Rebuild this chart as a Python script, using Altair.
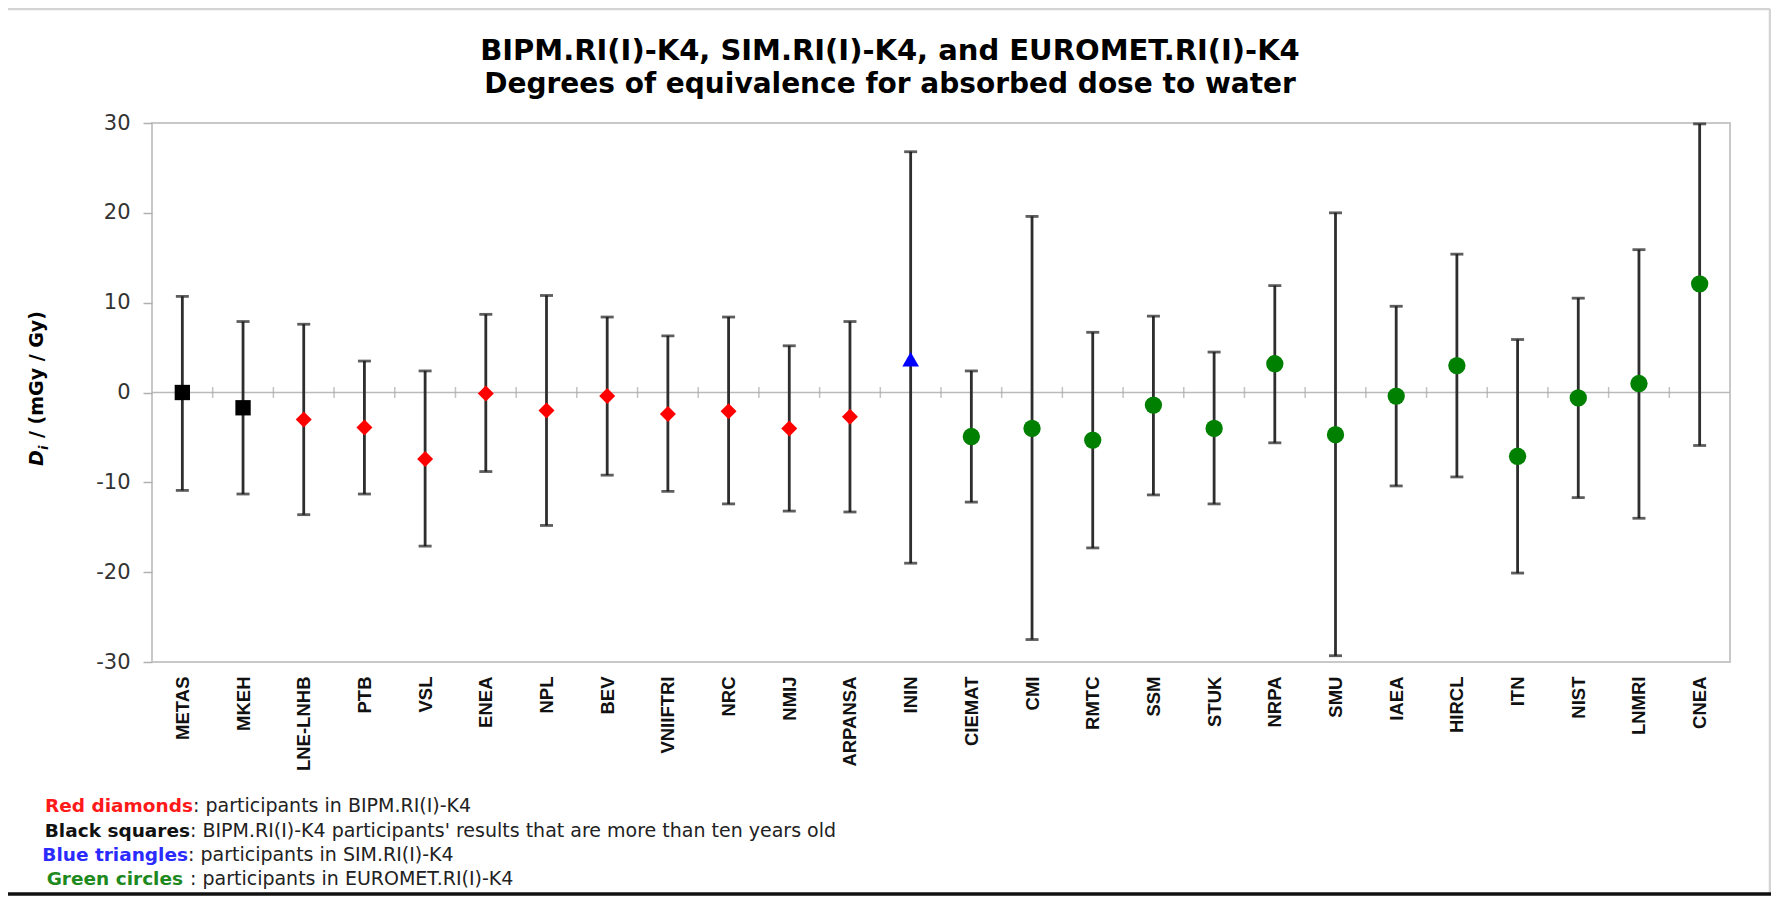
import altair as alt
import pandas as pd

# ---------------- data ----------------
LABS = ["METAS", "MKEH", "LNE-LNHB", "PTB", "VSL", "ENEA", "NPL", "BEV",
        "VNIIFTRI", "NRC", "NMIJ", "ARPANSA", "ININ", "CIEMAT", "CMI", "RMTC",
        "SSM", "STUK", "NRPA", "SMU", "IAEA", "HIRCL", "ITN", "NIST", "LNMRI", "CNEA"]
DI = [0.0, -1.7, -3.0, -3.9, -7.4, -0.1, -2.0, -0.4, -2.4, -2.1, -4.0, -2.7,
      3.7, -4.9, -4.0, -5.3, -1.4, -4.0, 3.2, -4.7, -0.4, 3.0, -7.1, -0.6, 1.0, 12.1]
UPPER = [10.7, 7.9, 7.6, 3.5, 2.4, 8.7, 10.8, 8.4, 6.3, 8.4, 5.2, 7.9,
         26.8, 2.4, 19.6, 6.7, 8.5, 4.5, 11.9, 20.0, 9.6, 15.4, 5.9, 10.5, 15.9, 29.9]
LOWER = [-10.9, -11.3, -13.6, -11.3, -17.1, -8.8, -14.8, -9.2, -11.0, -12.4, -13.2, -13.3,
         -19.0, -12.2, -27.5, -17.3, -11.4, -12.4, -5.6, -29.3, -10.4, -9.4, -20.1, -11.7, -14.0, -5.9]
GROUP = ["old"] * 2 + ["bipm"] * 10 + ["sim"] + ["euromet"] * 13
Y_TICKS = [-30, -20, -10, 0, 10, 20, 30]

GROUPS = ["old", "bipm", "sim", "euromet"]
G_SHAPES = ["square", "diamond", "triangle-up", "circle"]
G_COLORS = ["#000000", "#ff0000", "#0000ff", "#008000"]
G_SIZES = [235, 300, 360, 320]

TITLE = "BIPM.RI(I)-K4, SIM.RI(I)-K4, and EUROMET.RI(I)-K4"
SUBTITLE = "Degrees of equivalence for absorbed dose to water"

LEG_PREFIX = ["Red diamonds", "Black squares", "Blue triangles", "Green circles"]
LEG_SUFFIX = [": participants in BIPM.RI(I)-K4",
              ": BIPM.RI(I)-K4 participants' results that are more than ten years old",
              ": participants in SIM.RI(I)-K4",
              ": participants in EUROMET.RI(I)-K4"]
LEG_COLORS = ["#ff1a1a", "#111111", "#2b2bff", "#1e8a1e"]

df = pd.DataFrame({"name": LABS, "di": DI, "hi": UPPER, "lo": LOWER, "group": GROUP})
bounds = pd.DataFrame({"name": LABS[1:]})

# ---------------- layout ----------------
W, H = 1578, 539
STEP = W / len(LABS)
one = alt.Data(values=[{}])

xscale = alt.Scale(type="point", padding=0.5)
xaxis = alt.Axis(title=None, labelAngle=270, labelFont="Liberation Sans",
                 labelFontWeight="bold", labelFontSize=18.5, labelColor="#111111",
                 labelPadding=14, ticks=False, tickSize=0, domain=False, grid=False,
                 labelAlign="right", labelBaseline="middle")
yscale = alt.Scale(domain=[-30, 30], nice=False, zero=False)
yaxis = alt.Axis(values=Y_TICKS, title=None, domain=False, tickColor="#b0b0b0",
                 tickSize=9, tickWidth=1.5, labelFont="DejaVu Sans", labelFontSize=21,
                 labelColor="#333333", labelPadding=13, gridDash=[8, 5],
                 labelExpr="datum.value < 0 ? '-' + abs(datum.value) : '' + datum.value",
                 gridColor="#c4c4c4", gridWidth=1.2,
                 gridOpacity={"condition": {"test": "abs(datum.value) == 30 || datum.value == 0",
                                            "value": 0}, "value": 1})

X = alt.X("name:N", sort=LABS, scale=xscale, axis=xaxis)

zero_line = alt.Chart(one).mark_rule(color="#bababa", strokeWidth=1.5).encode(
    y=alt.datum(0, scale=yscale, axis=yaxis))

bticks = alt.Chart(bounds).mark_tick(orient="vertical", size=11, thickness=1.5,
                                     color="#a8a8a8", xOffset=-STEP / 2).encode(
    x=X, y=alt.datum(0))

bars = alt.Chart(df).mark_rule(color="#2e2e2e", strokeWidth=2.8).encode(
    x=X, y=alt.Y("lo:Q", scale=yscale, axis=yaxis), y2="hi:Q")
cap_hi = alt.Chart(df).mark_tick(orient="horizontal", size=13, thickness=2.8,
                                 color="#1a1a1a").encode(x=X, y="hi:Q")
cap_lo = alt.Chart(df).mark_tick(orient="horizontal", size=13, thickness=2.8,
                                 color="#1a1a1a").encode(x=X, y="lo:Q")

points = alt.Chart(df).mark_point(filled=True, opacity=1, strokeWidth=0).encode(
    x=X, y="di:Q",
    shape=alt.Shape("group:N", scale=alt.Scale(domain=GROUPS, range=G_SHAPES), legend=None),
    color=alt.Color("group:N", scale=alt.Scale(domain=GROUPS, range=G_COLORS), legend=None),
    size=alt.Size("group:N", scale=alt.Scale(domain=GROUPS, range=G_SIZES), legend=None),
)

# ---------------- texts ----------------
def txt(text, x, y, **kw):
    return alt.Chart(one).mark_text(text=text, **kw).encode(x=alt.value(x), y=alt.value(y))

title1 = txt(TITLE, 738, -63, font="DejaVu Sans", fontWeight="bold", fontSize=29,
             align="center", baseline="alphabetic", color="#000000")
title2 = txt(SUBTITLE, 738, -30, font="DejaVu Sans", fontWeight="bold", fontSize=28,
             align="center", baseline="alphabetic", color="#000000")

ylab_d = txt("D", -109, 343, font="DejaVu Sans", fontWeight="bold", fontStyle="italic",
             fontSize=19, angle=270, align="left", baseline="alphabetic", color="#000000")
ylab_i = txt("i", -104, 327, font="DejaVu Sans", fontWeight="bold", fontStyle="italic",
             fontSize=13, angle=270, align="left", baseline="alphabetic", color="#000000")
ylab_r = txt("/ (mGy / Gy)", -109, 315, font="DejaVu Sans", fontWeight="bold",
             fontSize=19, angle=270, align="left", baseline="alphabetic", color="#000000")

LEG_X = [41, 38, 36, 31]
LEG_SX = [41, 38, 36, 38]
LEG_Y = [689, 714, 738, 762]
legend_layers = []
for i in range(4):
    legend_layers.append(txt(LEG_PREFIX[i], LEG_X[i], LEG_Y[i], font="DejaVu Sans",
                             fontWeight="bold", fontSize=18.5, align="right",
                             baseline="alphabetic", color=LEG_COLORS[i]))
    legend_layers.append(txt(LEG_SUFFIX[i], LEG_SX[i], LEG_Y[i], font="DejaVu Sans",
                             fontSize=19, align="left", baseline="alphabetic",
                             color="#222222"))

# ---------------- outer frame ----------------
frame_top = alt.Chart(one).mark_rule(color="#d4d4d4", strokeWidth=2.5).encode(
    x=alt.value(-144), x2=alt.value(1618), y=alt.value(-114))
frame_right = alt.Chart(one).mark_rule(color="#d4d4d4", strokeWidth=2.5).encode(
    x=alt.value(1618), y=alt.value(-114), y2=alt.value(770))
frame_bottom = alt.Chart(one).mark_rule(color="#111111", strokeWidth=3.5).encode(
    x=alt.value(-144), x2=alt.value(1620), y=alt.value(771))

chart = alt.layer(
    zero_line, bticks, bars, cap_hi, cap_lo, points,
    title1, title2, ylab_d, ylab_i, ylab_r, *legend_layers,
    frame_top, frame_right, frame_bottom,
).properties(
    width=W, height=H,
    autosize=alt.AutoSizeParams(type="none"),
    padding={"left": 144, "top": 115, "right": 41, "bottom": 234},
    background="white",
).configure_view(stroke="#c8c8c8", strokeWidth=2)

chart.save("out.html", embed_options={"renderer": "svg", "actions": False})
